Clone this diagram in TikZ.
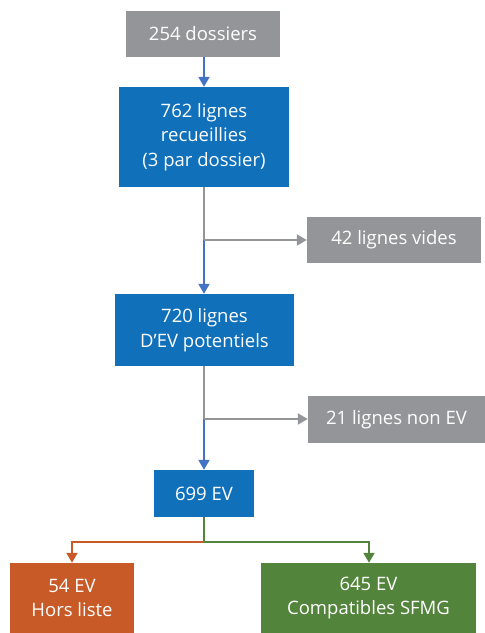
\documentclass[tikz,border=0pt]{standalone}
\usepackage{fontspec}
\setmainfont{Open Sans}
\usetikzlibrary{arrows.meta}
\definecolor{cgray}{HTML}{939598}
\definecolor{cblue}{HTML}{1070BA}
\definecolor{carrow}{HTML}{4472C4}
\definecolor{corange}{HTML}{C85A27}
\definecolor{cgreen}{HTML}{53843C}
\tikzset{
  box/.style={rectangle, inner sep=0pt, text=white, align=center,
    font=\fontsize{18.5}{24.5}\selectfont},
  graybox/.style={box, fill=cgray},
  bluebox/.style={box, fill=cblue},
  orangebox/.style={box, fill=corange},
  greenbox/.style={box, fill=cgreen},
  conn/.style={line width=2pt},
  tip/.style={-{Triangle[width=11pt,length=10pt]}},
}
\begin{document}
\begin{tikzpicture}[x=1pt,y=-1pt]
\useasboundingbox (0,0) rectangle (485,633);
\node[graybox, minimum width=154pt, minimum height=46pt] (b1) at (203,34) {254 dossiers};
\node[bluebox, minimum width=170pt, minimum height=100pt] (b2) at (204,137) {762 lignes\\recueillies\\(3 par dossier)};
\node[graybox, minimum width=174pt, minimum height=46pt] (b42) at (394,240) {42 lignes vides};
\node[bluebox, minimum width=179pt, minimum height=72pt] (b3) at (204.5,330) {720 lignes\\D’EV potentiels};
\node[graybox, minimum width=177pt, minimum height=47pt] (b21) at (396.5,419.5) {21 lignes non EV};
\node[bluebox, minimum width=100pt, minimum height=47pt] (b699) at (204,493.5) {699 EV};
\node[orangebox, minimum width=124pt, minimum height=70pt] (bo) at (72,598) {54 EV\\Hors liste};
\node[greenbox, minimum width=215pt, minimum height=70pt] (bg) at (368.5,598) {645 EV\\Compatibles SFMG};
\coordinate (j1) at (204,240);
\coordinate (j2) at (204,419);
\coordinate (j3) at (204,542);
\draw[conn, carrow, tip] (b1.south -| 204,0) -- (b2.north -| 204,0);
\draw[conn, cgray] (b2.south -| 204,0) -- (j1);
\draw[conn, carrow, tip] (j1) -- (b3.north -| 204,0);
\draw[conn, cgray, tip] (j1) -- (b42.west);
\draw[conn, cgray] (b3.south -| 204,0) -- (j2);
\draw[conn, carrow, tip] (j2) -- (b699.north);
\draw[conn, cgray, tip] (j2) -- (b21.west |- j2);
\draw[conn, cgreen] (b699.south) -- (j3);
\draw[conn, corange, tip] (j3) -| (bo.north);
\draw[conn, cgreen, tip] (j3) -| (bg.north -| 369,0);
\end{tikzpicture}
\end{document}
